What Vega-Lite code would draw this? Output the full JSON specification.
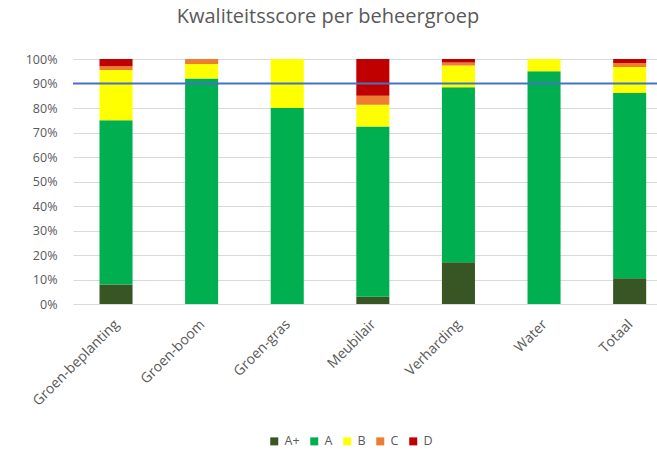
{
  "$schema": "https://vega.github.io/schema/vega-lite/v6.json",
  "autosize": "none",
  "width": 584,
  "height": 245,
  "padding": {"left": 73, "top": 59, "right": 0, "bottom": 149},
  "background": "white",
  "title": {
    "text": "Kwaliteitsscore per beheergroep",
    "font": "Open Sans",
    "fontSize": 20,
    "fontWeight": "normal",
    "color": "#595959",
    "anchor": "middle",
    "dx": -37,
    "offset": 26
  },
  "datasets": {
    "scores": [
      {"groep": "Groen-beplanting", "score": "A+", "rank": 1, "pct": 8},
      {"groep": "Groen-beplanting", "score": "A", "rank": 2, "pct": 67},
      {"groep": "Groen-beplanting", "score": "B", "rank": 3, "pct": 20.5},
      {"groep": "Groen-beplanting", "score": "C", "rank": 4, "pct": 1.5},
      {"groep": "Groen-beplanting", "score": "D", "rank": 5, "pct": 3},
      {"groep": "Groen-boom", "score": "A", "rank": 2, "pct": 92},
      {"groep": "Groen-boom", "score": "B", "rank": 3, "pct": 6},
      {"groep": "Groen-boom", "score": "C", "rank": 4, "pct": 2},
      {"groep": "Groen-gras", "score": "A", "rank": 2, "pct": 80},
      {"groep": "Groen-gras", "score": "B", "rank": 3, "pct": 20},
      {"groep": "Meubilair", "score": "A+", "rank": 1, "pct": 3},
      {"groep": "Meubilair", "score": "A", "rank": 2, "pct": 69.5},
      {"groep": "Meubilair", "score": "B", "rank": 3, "pct": 8.8},
      {"groep": "Meubilair", "score": "C", "rank": 4, "pct": 3.7},
      {"groep": "Meubilair", "score": "D", "rank": 5, "pct": 15},
      {"groep": "Verharding", "score": "A+", "rank": 1, "pct": 17},
      {"groep": "Verharding", "score": "A", "rank": 2, "pct": 71.5},
      {"groep": "Verharding", "score": "B", "rank": 3, "pct": 8.8},
      {"groep": "Verharding", "score": "C", "rank": 4, "pct": 1.3},
      {"groep": "Verharding", "score": "D", "rank": 5, "pct": 1.4},
      {"groep": "Water", "score": "A", "rank": 2, "pct": 95},
      {"groep": "Water", "score": "B", "rank": 3, "pct": 5},
      {"groep": "Totaal", "score": "A+", "rank": 1, "pct": 10.5},
      {"groep": "Totaal", "score": "A", "rank": 2, "pct": 75.6},
      {"groep": "Totaal", "score": "B", "rank": 3, "pct": 10.6},
      {"groep": "Totaal", "score": "C", "rank": 4, "pct": 1.7},
      {"groep": "Totaal", "score": "D", "rank": 5, "pct": 1.6}
    ],
    "target": [{"norm": 90}]
  },
  "layer": [
    {
      "data": {"name": "scores"},
      "mark": {"type": "bar"},
      "encoding": {
        "x": {
          "field": "groep",
          "type": "nominal",
          "sort": ["Groen-beplanting", "Groen-boom", "Groen-gras", "Meubilair", "Verharding", "Water", "Totaal"],
          "scale": {"paddingInner": 0.614, "paddingOuter": 0.218, "align": 0.71},
          "axis": {
            "title": null,
            "labelAngle": -45,
            "labelFont": "Open Sans",
            "labelFontSize": 14,
            "labelColor": "#595959",
            "ticks": false,
            "domain": false,
            "labelPadding": 13,
            "labelOffset": -4
          }
        },
        "y": {
          "field": "pct",
          "type": "quantitative",
          "stack": "zero",
          "scale": {"domain": [0, 100], "nice": false},
          "axis": {
            "title": null,
            "values": [0, 10, 20, 30, 40, 50, 60, 70, 80, 90, 100],
            "labelExpr": "datum.value + '%'",
            "labelOverlap": false,
            "labelFont": "Open Sans",
            "labelFontSize": 12.5,
            "labelColor": "#595959",
            "ticks": false,
            "domain": false,
            "labelPadding": 16,
            "gridColor": "#d9d9d9",
            "gridWidth": 1
          }
        },
        "color": {
          "field": "score",
          "type": "nominal",
          "sort": ["A+", "A", "B", "C", "D"],
          "scale": {
            "domain": ["A+", "A", "B", "C", "D"],
            "range": ["#375623", "#00b050", "#ffff00", "#ed7d31", "#c00000"]
          },
          "legend": {
            "title": null,
            "orient": "none",
            "direction": "horizontal",
            "legendX": 195,
            "legendY": 376,
            "symbolType": "square",
            "symbolSize": 64,
            "symbolStrokeWidth": 0,
            "labelFont": "Open Sans",
            "labelFontSize": 12.5,
            "labelColor": "#595959",
            "columnPadding": 8,
            "labelOffset": 4
          }
        },
        "order": {"field": "rank", "type": "quantitative", "sort": "ascending"}
      }
    },
    {
      "data": {"name": "target"},
      "mark": {"type": "rule", "color": "#4472c4", "strokeWidth": 2},
      "encoding": {
        "y": {
          "field": "norm",
          "type": "quantitative",
          "axis": {
            "title": null,
            "values": [0, 10, 20, 30, 40, 50, 60, 70, 80, 90, 100],
            "labelExpr": "datum.value + '%'",
            "labelOverlap": false,
            "labelFont": "Open Sans",
            "labelFontSize": 12.5,
            "labelColor": "#595959",
            "ticks": false,
            "domain": false,
            "labelPadding": 16,
            "gridColor": "#d9d9d9",
            "gridWidth": 1
          }
        }
      }
    }
  ],
  "config": {
    "view": {"stroke": null}
  }
}
